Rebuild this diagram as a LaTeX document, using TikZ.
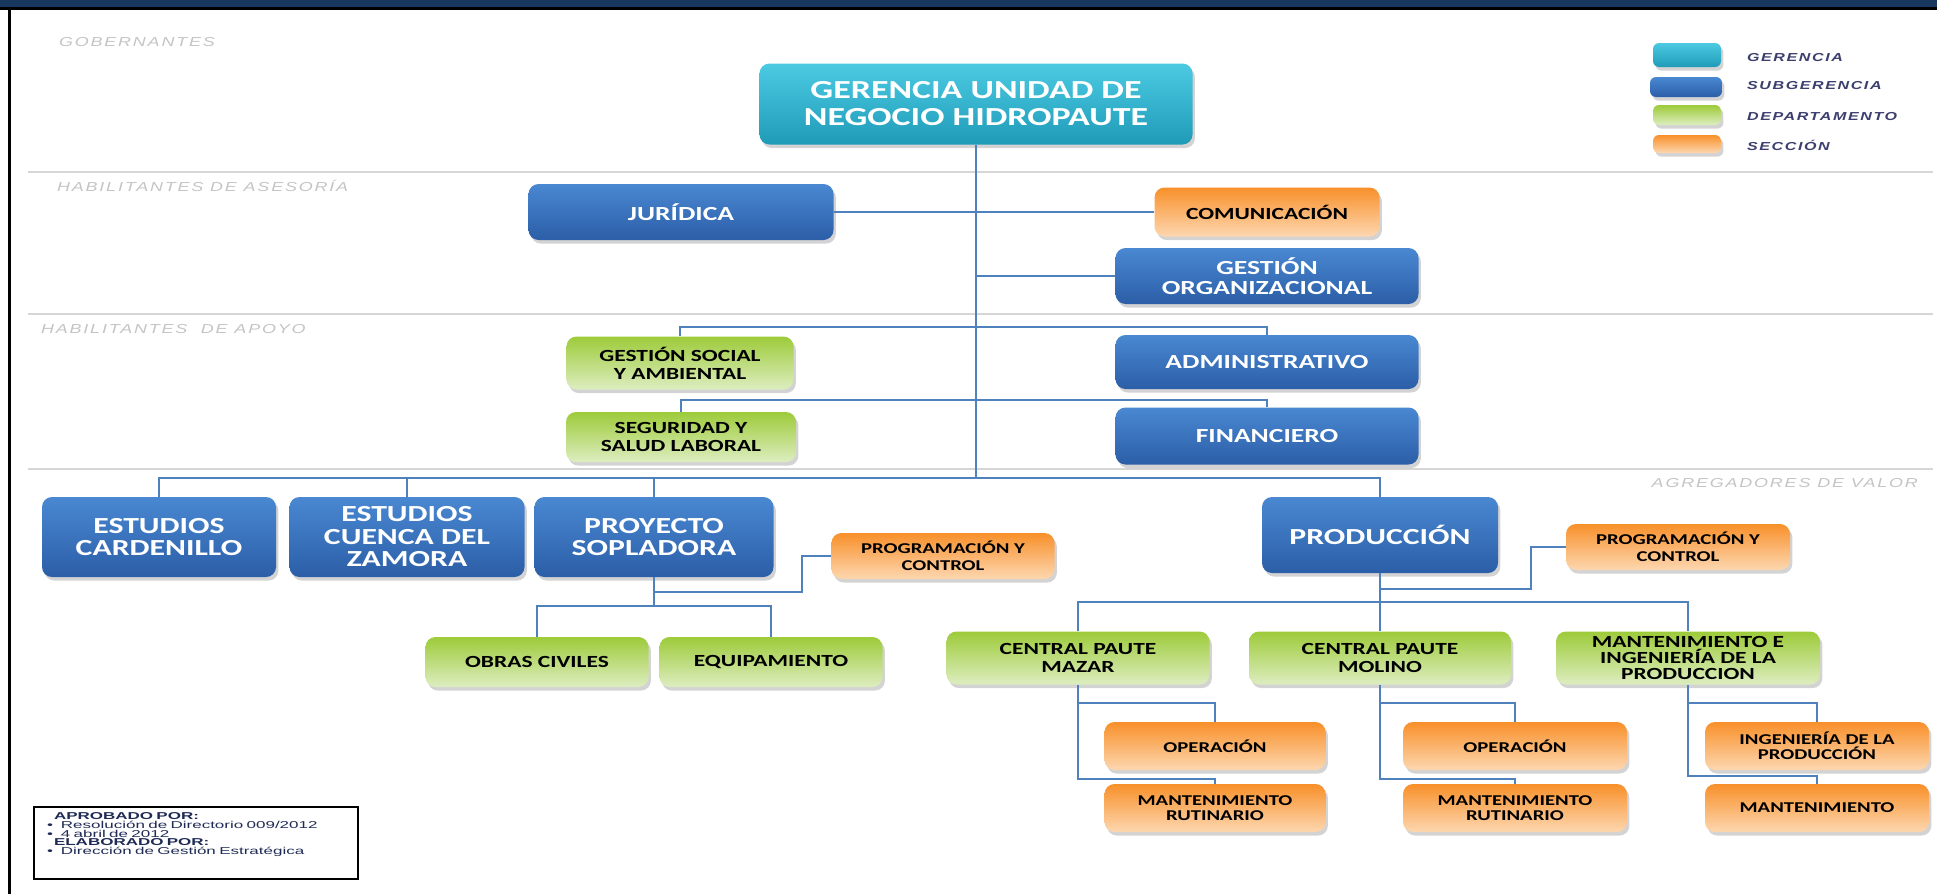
\documentclass[tikz,border=0pt]{standalone}
\usepackage{fontspec}
\setmainfont{Carlito}[FakeStretch=1.38]
\newfontfamily\zonefont{Liberation Sans}[FakeStretch=1.38,LetterSpace=14]
\newfontfamily\notefont{Liberation Sans}[FakeStretch=1.7]
\usetikzlibrary{shadows}

\definecolor{topnavy}{HTML}{17375E}
\definecolor{gertop}{HTML}{4CCAE2}
\definecolor{gerbot}{HTML}{1F9BB8}
\definecolor{subtop}{HTML}{4A88D2}
\definecolor{subbot}{HTML}{2B5EA7}
\definecolor{deptop}{HTML}{9DCB3A}
\definecolor{depbot}{HTML}{DDEDC0}
\definecolor{sectop}{HTML}{F8902A}
\definecolor{secbot}{HTML}{FDD7B0}
\definecolor{linkblue}{HTML}{4F81BD}
\definecolor{sepgray}{HTML}{D6D6D6}
\definecolor{zonegray}{HTML}{C4C4C4}
\definecolor{legtext}{HTML}{3C3F6E}
\definecolor{notetext}{HTML}{1F2A55}

\tikzset{
	box/.style={rounded corners=5pt, align=center, inner sep=0pt,
		drop shadow={shadow xshift=1.2pt, shadow yshift=-1.8pt, opacity=0.35}},
	gerbox/.style={box, top color=gertop, bottom color=gerbot, text=white},
	subbox/.style={box, top color=subtop, bottom color=subbot, text=white},
	depbox/.style={box, top color=deptop, bottom color=depbot, text=black},
	secbox/.style={box, top color=sectop, bottom color=secbot, text=black},
	gerfont/.style={font=\bfseries\fontsize{13}{13.5}\selectfont},
	bigfont/.style={font=\bfseries\fontsize{11.5}{11.25}\selectfont},
	subfont/.style={font=\bfseries\fontsize{10}{10}\selectfont},
	depfont/.style={font=\bfseries\fontsize{8.5}{9}\selectfont},
	secfont/.style={font=\bfseries\fontsize{7.5}{7.5}\selectfont},
	link/.style={draw=linkblue, line width=1pt},
	sep/.style={draw=sepgray, line width=1pt},
	zone/.style={font=\zonefont\itshape\fontsize{6.5}{7}\selectfont, text=zonegray},
	legend/.style={font=\zonefont\bfseries\itshape\fontsize{5.8}{7}\selectfont, text=legtext, anchor=west}
}

\begin{document}
\begin{tikzpicture}[x=0.5pt, y=-0.5pt]
			\useasboundingbox (0,0) rectangle (1937,894);
			
			% marco
			\fill[topnavy] (0,0) rectangle (1937,7);
			\fill[black] (0,7) rectangle (1937,10);
			\fill[black] (8,7) rectangle (11,894);
			
			\draw[sep] (28,172) -- (1933,172);
			\draw[sep] (28,314) -- (1933,314);
			\draw[sep] (28,469) -- (1933,469);
			
			\node[zone, anchor=west] (zgob) at (52,42) {GOBERNANTES};
			\node[zone, anchor=west] (zase) at (50,186) {HABILITANTES DE ASESORÍA};
			\node[zone, anchor=west] (zapo) at (34,329) {HABILITANTES\ \ DE APOYO};
			\node[zone, anchor=east] (zagr) at (1925,483) {AGREGADORES DE VALOR};
			
			% leyenda
			\node[gerbox, rounded corners=3pt, minimum width=34pt, minimum height=12pt] (lg1) at (1687,55) {};
			\node[subbox, rounded corners=3pt, minimum width=36pt, minimum height=10pt] (lg2) at (1686,87) {};
			\node[depbox, rounded corners=3pt, minimum width=34pt, minimum height=10pt] (lg3) at (1687,115) {};
			\node[secbox, rounded corners=3pt, minimum width=34pt, minimum height=9pt] (lg4) at (1687,144) {};
			\node[legend] (lt1) at (1740,58) {GERENCIA};
			\node[legend] (lt2) at (1740,86) {SUBGERENCIA};
			\node[legend] (lt3) at (1740,117) {DEPARTAMENTO};
			\node[legend] (lt4) at (1740,145) {SECCIÓN};
			
			% gobernantes y asesoria
			\node[gerbox, gerfont, minimum width=216.5pt, minimum height=40.5pt] (ger) at (976,104) {GERENCIA UNIDAD DE\\NEGOCIO HIDROPAUTE};
			\node[subbox, subfont, minimum width=152.5pt, minimum height=28pt] (jur) at (681,212) {JURÍDICA};
			\node[secbox, depfont, minimum width=112.5pt, minimum height=24.5pt] (com) at (1267,212) {COMUNICACIÓN};
			\node[subbox, subfont, minimum width=151.5pt, minimum height=28pt] (gorg) at (1267,276) {GESTIÓN\\ORGANIZACIONAL};
			
			% apoyo
			\node[depbox, depfont, minimum width=113.5pt, minimum height=26.5pt] (gsoc) at (680,363) {GESTIÓN SOCIAL\\Y AMBIENTAL};
			\node[subbox, subfont, minimum width=151.5pt, minimum height=27pt] (adm) at (1267,362) {ADMINISTRATIVO};
			\node[depbox, depfont, minimum width=115pt, minimum height=25pt] (seg) at (681,437) {SEGURIDAD Y\\SALUD LABORAL};
			\node[subbox, subfont, minimum width=151.5pt, minimum height=28.5pt] (fin) at (1267,436) {FINANCIERO};
			
			% agregadores de valor
			\node[subbox, bigfont, minimum width=117pt, minimum height=40pt] (card) at (159,537) {ESTUDIOS\\CARDENILLO};
			\node[subbox, bigfont, minimum width=117.5pt, minimum height=40pt] (cuen) at (407,537) {ESTUDIOS\\CUENCA DEL\\ZAMORA};
			\node[subbox, bigfont, minimum width=119.5pt, minimum height=40pt] (sop) at (654,537) {PROYECTO\\SOPLADORA};
			\node[subbox, bigfont, minimum width=118pt, minimum height=38pt] (prod) at (1380,535) {PRODUCCIÓN};
			
			\node[secbox, font=\bfseries\fontsize{7.5}{8.5}\selectfont, minimum width=111.5pt, minimum height=23pt] (prog1) at (943,556) {PROGRAMACIÓN Y\\CONTROL};
			\node[depbox, depfont, minimum width=111.5pt, minimum height=25pt] (obras) at (537,662) {OBRAS CIVILES};
			\node[depbox, depfont, minimum width=111.5pt, minimum height=25pt] (equip) at (771,662) {EQUIPAMIENTO};
			
			\node[secbox, font=\bfseries\fontsize{7.5}{8.5}\selectfont, minimum width=112pt, minimum height=23pt] (prog2) at (1678,547) {PROGRAMACIÓN Y\\CONTROL};
			\node[depbox, depfont, minimum width=131.5pt, minimum height=26.5pt] (mazar) at (1078,658) {CENTRAL PAUTE\\MAZAR};
			\node[depbox, depfont, minimum width=131pt, minimum height=26.5pt] (molino) at (1380,658) {CENTRAL PAUTE\\MOLINO};
			\node[depbox, font=\bfseries\fontsize{8.5}{8}\selectfont, minimum width=132pt, minimum height=26.5pt] (mantei) at (1688,658) {MANTENIMIENTO E\\INGENIERÍA DE LA\\PRODUCCION};
			
			\node[secbox, secfont, minimum width=110.5pt, minimum height=24pt] (op1) at (1215,746) {OPERACIÓN};
			\node[secbox, secfont, minimum width=110.5pt, minimum height=24pt] (mr1) at (1215,808) {MANTENIMIENTO\\RUTINARIO};
			\node[secbox, secfont, minimum width=112pt, minimum height=24pt] (op2) at (1515,746) {OPERACIÓN};
			\node[secbox, secfont, minimum width=112pt, minimum height=24pt] (mr2) at (1515,808) {MANTENIMIENTO\\RUTINARIO};
			\node[secbox, secfont, minimum width=112pt, minimum height=24pt] (ing) at (1817,746) {INGENIERÍA DE LA\\PRODUCCIÓN};
			\node[secbox, secfont, minimum width=112pt, minimum height=24pt] (mant) at (1817,808) {MANTENIMIENTO};
			
			% conectores
			\coordinate (apoyo) at (976,327);
			\coordinate (apoyob) at (976,400);
			\coordinate (hub) at (976,478);
			
			\draw[link] (ger.south) -- (hub);
			\draw[link] (jur) -- (com);
			\draw[link] (gorg.west) -- (gorg.west -| hub);
			\draw[link] (gsoc.north) |- (apoyo) -| (adm.north);
			\draw[link] (seg.north) |- (apoyob) -| (fin.north);
			\draw[link] (card.north) |- (hub) -| (prod.north);
			\draw[link] (cuen.north) -- (cuen.north |- hub);
			\draw[link] (sop.north) -- (sop.north |- hub);
			
			\coordinate (sopk) at (654,592);
			\coordinate (sopj) at (654,606);
			\coordinate (bend1) at (802,592);
			\draw[link] (sop.south) -- (sopj);
			\draw[link] (sopk) -- (bend1) |- (prog1.west);
			\draw[link] (obras.north) |- (sopj) -| (equip.north);
			
			\coordinate (prodk) at (1380,589);
			\coordinate (prodj) at (1380,602);
			\coordinate (bend2) at (1531,589);
			\draw[link] (prod.south) -- (molino.north);
			\draw[link] (prodk) -- (bend2) |- (prog2.west);
			\draw[link] (mazar.north) |- (prodj) -| (mantei.north);
			
			\coordinate (mz1) at (1078,703);
			\coordinate (mz2) at (1078,779);
			\draw[link] (mazar.south) -- (mz2) -| (mr1.north);
			\draw[link] (mz1) -| (op1.north);
			
			\coordinate (mo1) at (1380,703);
			\coordinate (mo2) at (1380,779);
			\draw[link] (molino.south) -- (mo2) -| (mr2.north);
			\draw[link] (mo1) -| (op2.north);
			
			\coordinate (me1) at (1688,703);
			\coordinate (me2) at (1688,776);
			\draw[link] (mantei.south) -- (me2) -| (mant.north);
			\draw[link] (me1) -| (ing.north);
			
			% nota
			\node[draw=black, line width=1pt, anchor=north west, text width=149pt, inner xsep=6.5pt, inner ysep=3pt, align=left, font=\notefont\fontsize{5}{4.3}\selectfont, text=notetext] (nota) at (33,806) {\hspace*{3.5pt}\textbf{APROBADO POR:}\\ •\hspace{4pt}Resolución de Directorio 009/2012\\ •\hspace{4pt}4 abril de 2012\\ \hspace*{3.5pt}\textbf{ELABORADO POR:}\\ •\hspace{4pt}Dirección de Gestión Estratégica\rule[-9.5pt]{0pt}{0pt}};
			
		\end{tikzpicture}
\end{document}
